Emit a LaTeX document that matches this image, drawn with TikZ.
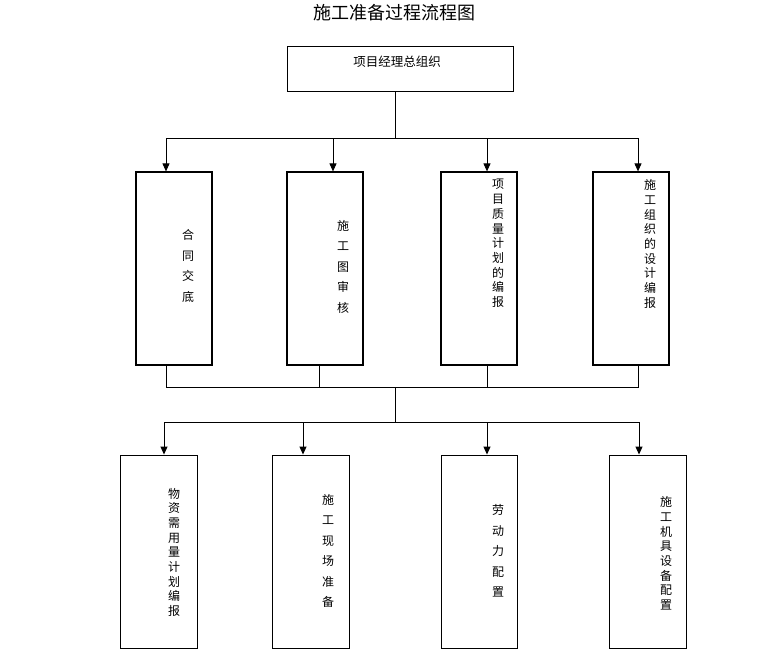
\documentclass[tikz,border=0pt]{standalone}
\usepackage{fontspec}
\newfontfamily\cjk{Noto Sans CJK SC}
\usetikzlibrary{arrows.meta, positioning}

\begin{document}
\begin{tikzpicture}[x=1pt,y=-1pt,>={Triangle[length=8pt,width=7pt]},
	stage/.style={draw, line width=1.2pt, minimum width=76pt, minimum height=193pt, inner sep=0pt},
	vwide/.style={font=\cjk\fontsize{12}{20.5}\selectfont, align=center, inner sep=0pt},
	vtight/.style={font=\cjk\fontsize{12}{14.7}\selectfont, align=center, inner sep=0pt},
	link/.style={line width=0.9pt}]
	
	\useasboundingbox (0,0) rectangle (760,660);
	
	\node (title) [font=\cjk\fontsize{18}{18}\selectfont] at (394,13) {施工准备过程流程图};
	
	\node (pm) [draw, line width=1pt, minimum width=226pt, minimum height=45pt, inner sep=0pt] at (400,69.5) {};
	\node (pm-t) [font=\cjk\fontsize{12.5}{12.5}\selectfont, inner sep=0pt] at (397,62) {项目经理总组织};
	
	% first row
	\node (hetong) [stage] at (174,268.5) {};
	\node (tushen) [stage] at (325,268.5) {};
	\node (zhiliang) [stage] at (479,268.5) {};
	\node (zuzhi) [stage] at (631,268.5) {};
	\node (hetong-t) [vwide] at (188,266) {合\\同\\交\\底};
	\node (tushen-t) [vwide] at (343,266.7) {施\\工\\图\\审\\核};
	\node (zhiliang-t) [vtight] at (498,243.5) {项\\目\\质\\量\\计\\划\\的\\编\\报};
	\node (zuzhi-t) [vtight] at (650,244) {施\\工\\组\\织\\的\\设\\计\\编\\报};
	
	% second row
	\node (wuzi) [stage, line width=0.9pt, minimum width=77pt] at (158.5,551.5) {};
	\node (xianchang) [stage, line width=0.9pt, minimum width=77pt] at (310.5,551.5) {};
	\node (laodong) [stage, line width=0.9pt] at (479,551.5) {};
	\node (jiju) [stage, line width=0.9pt, minimum width=77pt] at (647.5,551.5) {};
	\node (wuzi-t) [vtight] at (174,552.3) {物\\资\\需\\用\\量\\计\\划\\编\\报};
	\node (xianchang-t) [vwide] at (328,551) {施\\工\\现\\场\\准\\备};
	\node (laodong-t) [vwide] at (498,551) {劳\\动\\力\\配\\置};
	\node (jiju-t) [vtight] at (666,553.3) {施\\工\\机\\具\\设\\备\\配\\置};
	
	\coordinate (j1) at (395,138);
	\coordinate (j2) at (395,387);
	\coordinate (j3) at (395,422);
	
	\draw [link] (j1 |- pm.south) -- (j1);
	\draw [link, ->] (j1) -| ([xshift=-8pt]hetong.north);
	\draw [link, ->] (j1) -| ([xshift=8pt]tushen.north);
	\draw [link, ->] (j1) -| ([xshift=8pt]zhiliang.north);
	\draw [link, ->] (j1) -| ([xshift=7pt]zuzhi.north);
	
	\draw [link] ([xshift=-8pt]hetong.south) |- (j2);
	\draw [link] ([xshift=-6pt]tushen.south) |- (j2);
	\draw [link] ([xshift=8pt]zhiliang.south) |- (j2);
	\draw [link] ([xshift=7pt]zuzhi.south) |- (j2);
	\draw [link] (j2) -- (j3);
	
	\draw [link, ->] (j3) -| ([xshift=5.5pt]wuzi.north);
	\draw [link, ->] (j3) -| ([xshift=-7.5pt]xianchang.north);
	\draw [link, ->] (j3) -| ([xshift=8pt]laodong.north);
	\draw [link, ->] (j3) -| ([xshift=-8.5pt]jiju.north);
	
\end{tikzpicture}
\end{document}
